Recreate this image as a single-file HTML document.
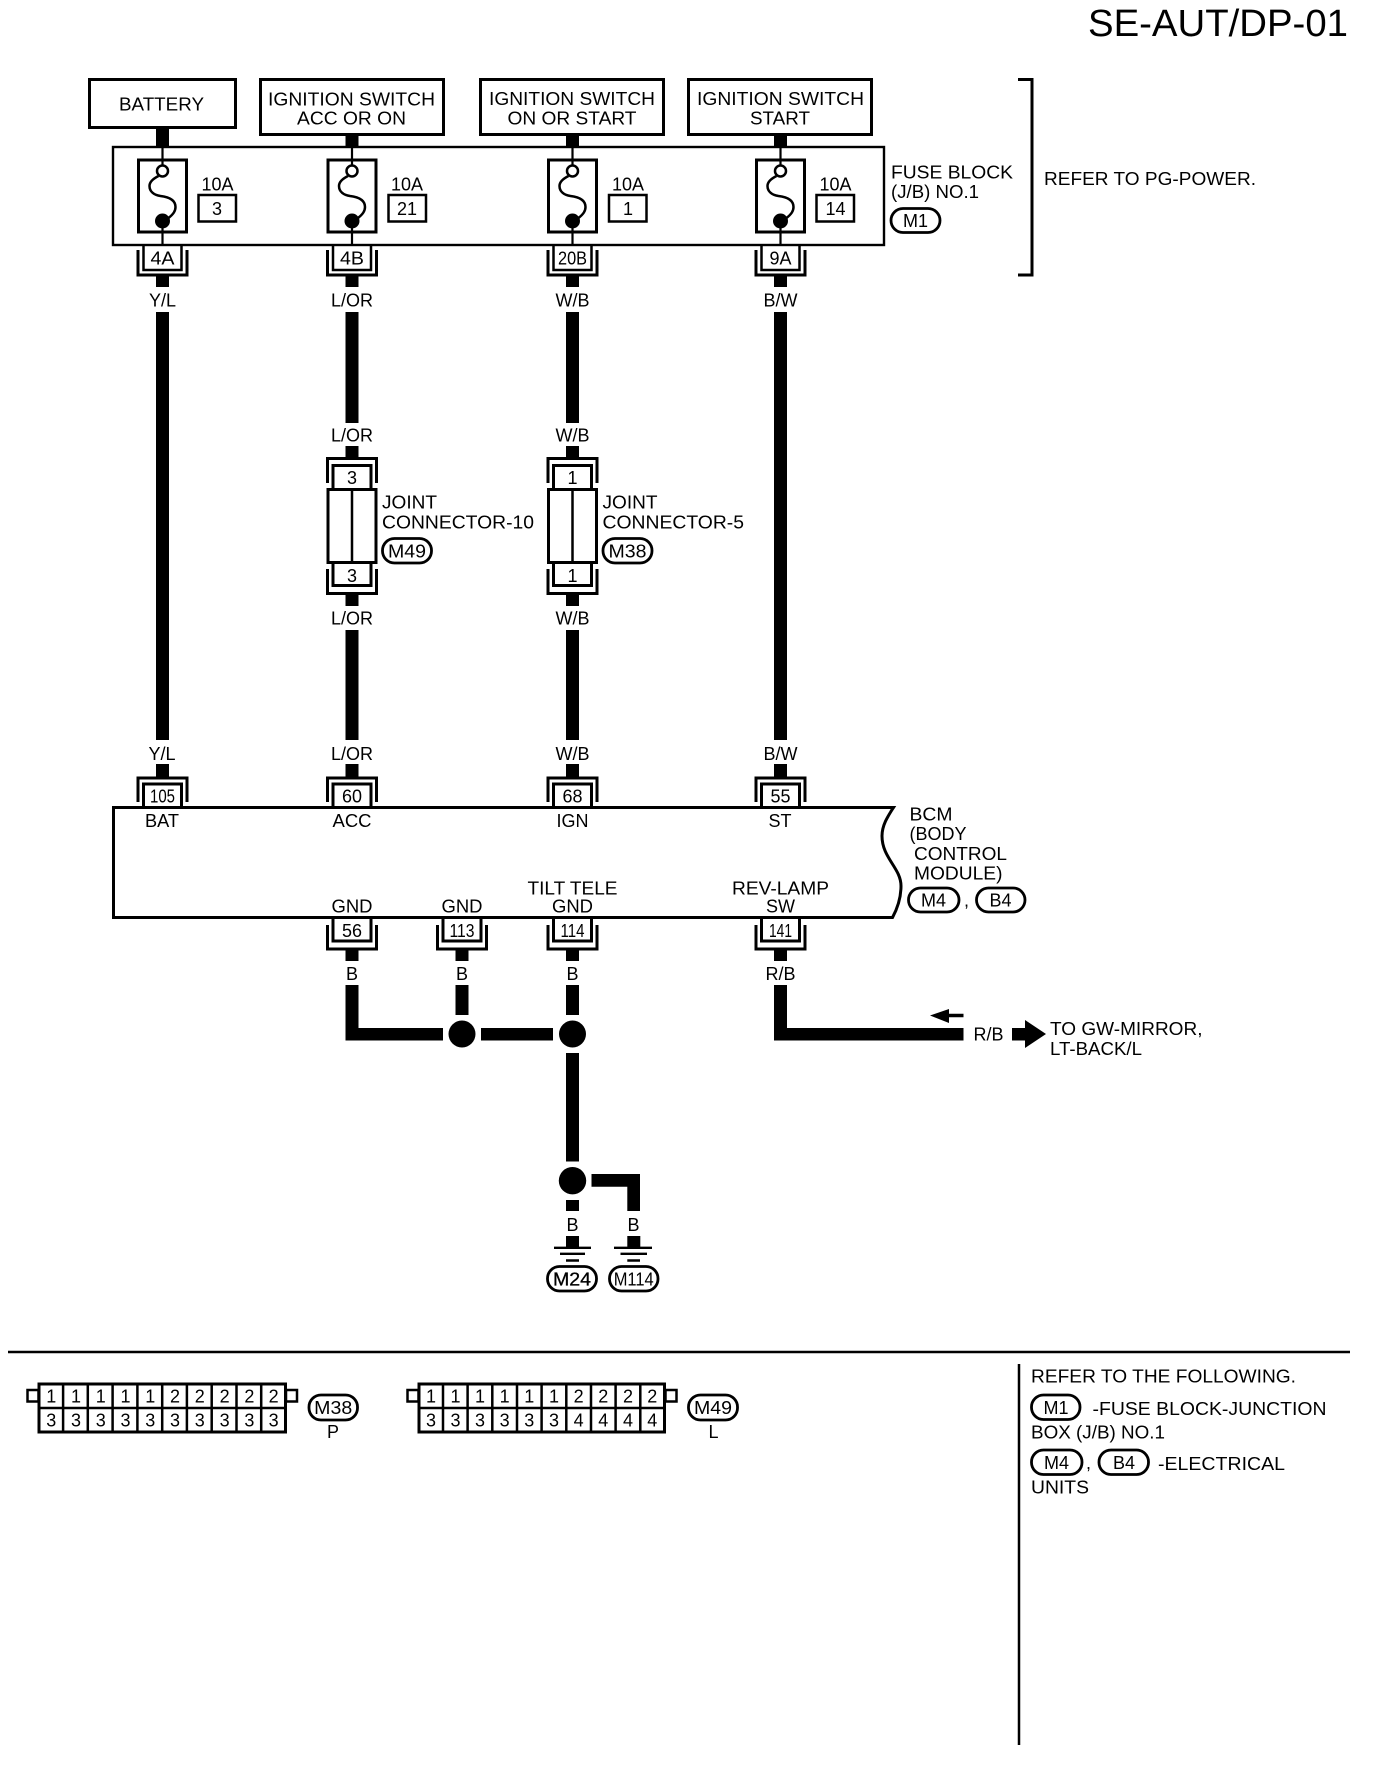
<!DOCTYPE html>
<html lang="en">
<head>
<meta charset="utf-8">
<title>SE-AUT/DP-01</title>
<style>
html,body{margin:0;padding:0;background:#fff}
svg{display:block}
text{font-family:"Liberation Sans",Arial,sans-serif;font-size:18px;fill:#000}
.m{text-anchor:middle}
.s{fill:none;stroke:#000;stroke-width:3}
.n{fill:none;stroke:#000;stroke-width:2.5}
.p{fill:#fff;stroke:#000;stroke-width:2.8}
.w{fill:#000}
</style>
</head>
<body>
<svg width="1392" height="1768" viewBox="0 0 1392 1768" xmlns="http://www.w3.org/2000/svg">
<defs>
<g id="fuse">
<rect class="w" x="-6.5" y="135" width="13" height="11"/>
<path d="M0,146V165M0,221V245" stroke="#000" stroke-width="2.2" fill="none"/>
<rect class="s" x="-24" y="160" width="48" height="72"/>
<path d="M-4,176C-10,179 -13,182 -13,186C-13,192 -8,195 -2,196C6,197 13,200 13,207C13,211 11,214 6,218" class="n"/>
<circle cx="0" cy="171" r="5.5" fill="#fff" stroke="#000" stroke-width="2.5"/>
<circle cx="0" cy="221" r="7.5" fill="#000"/>
<path class="n" d="M-19,245V270H19V245"/>
<path class="s" d="M-24.5,250V275H24.5V250"/>
<rect class="w" x="-6.5" y="276" width="13" height="11"/>
</g>
<g id="bt">
<rect class="w" x="-6.5" y="764" width="13" height="14"/>
<path class="s" d="M-24.5,802V778H24.5V802"/>
<path class="s" d="M-19,807V784H19V807"/>
</g>
<g id="bb">
<path class="s" d="M-19,917V941H19V917"/>
<path class="s" d="M-24.5,925V949H24.5V925"/>
<rect class="w" x="-6.5" y="949" width="13" height="12"/>
</g>
<g id="joint">
<rect class="w" x="-6.5" y="446" width="13" height="12"/>
<path class="s" d="M-24.5,483V458.500H24.5V483"/>
<path class="s" d="M-19,489V465.500H19V489"/>
<rect x="-24" y="489.500" width="48" height="73" fill="#fff" stroke="#000" stroke-width="3"/>
<path d="M0,489.500V562.500" stroke="#000" stroke-width="2.5"/>
<path class="s" d="M-19,563V585.500H19V563"/>
<path class="s" d="M-24.5,569V593.500H24.5V569"/>
<rect class="w" x="-6.5" y="594" width="13" height="12"/>
</g>
</defs>

<text x="1088" y="36" style="font-size:38px" textLength="260" lengthAdjust="spacingAndGlyphs">SE-AUT/DP-01</text>

<!-- top boxes -->
<rect class="s" x="89.500" y="79.500" width="146" height="48"/>
<text x="119" y="110.500" textLength="85" lengthAdjust="spacingAndGlyphs">BATTERY</text>
<rect class="s" x="260.500" y="79.500" width="183" height="55"/>
<text x="268" y="105.500" textLength="167" lengthAdjust="spacingAndGlyphs">IGNITION SWITCH</text>
<text x="297" y="124.500" textLength="109" lengthAdjust="spacingAndGlyphs">ACC OR ON</text>
<rect class="s" x="480.500" y="79.500" width="183" height="55"/>
<text x="489" y="105" textLength="166" lengthAdjust="spacingAndGlyphs">IGNITION SWITCH</text>
<text x="507.500" y="124.500" textLength="129" lengthAdjust="spacingAndGlyphs">ON OR START</text>
<rect class="s" x="688.500" y="79.500" width="183" height="55"/>
<text x="697" y="105" textLength="167" lengthAdjust="spacingAndGlyphs">IGNITION SWITCH</text>
<text x="750" y="124.500" textLength="60" lengthAdjust="spacingAndGlyphs">START</text>

<!-- fuse block -->
<rect class="w" x="156" y="128" width="13" height="8"/>
<rect x="113" y="147" width="771" height="98" fill="none" stroke="#000" stroke-width="2.4"/>
<use href="#fuse" transform="translate(162.500,0)"/>
<use href="#fuse" transform="translate(352,0)"/>
<use href="#fuse" transform="translate(572.500,0)"/>
<use href="#fuse" transform="translate(780.500,0)"/>

<text x="201.500" y="190.500" textLength="32" lengthAdjust="spacingAndGlyphs">10A</text>
<rect class="n" x="198.500" y="195" width="37.500" height="26.500"/>
<text class="m" x="217" y="215">3</text>
<text x="391" y="190.500" textLength="32" lengthAdjust="spacingAndGlyphs">10A</text>
<rect class="n" x="388.500" y="195" width="37.500" height="26.500"/>
<text class="m" x="407" y="215">21</text>
<text x="612" y="190.500" textLength="32" lengthAdjust="spacingAndGlyphs">10A</text>
<rect class="n" x="609" y="195" width="37.500" height="26.500"/>
<text class="m" x="628" y="215">1</text>
<text x="819.500" y="190.500" textLength="32" lengthAdjust="spacingAndGlyphs">10A</text>
<rect class="n" x="816.500" y="195" width="37.500" height="26.500"/>
<text class="m" x="835.500" y="215">14</text>

<text class="m" x="162.500" y="264.500" textLength="24" lengthAdjust="spacingAndGlyphs">4A</text>
<text class="m" x="352" y="264.500" textLength="24" lengthAdjust="spacingAndGlyphs">4B</text>
<text class="m" x="572.500" y="264.500" textLength="29" lengthAdjust="spacingAndGlyphs">20B</text>
<text class="m" x="780.500" y="264.500" textLength="22" lengthAdjust="spacingAndGlyphs">9A</text>

<text x="891" y="178.500" textLength="122" lengthAdjust="spacingAndGlyphs">FUSE BLOCK</text>
<text x="891" y="198" textLength="88" lengthAdjust="spacingAndGlyphs">(J/B) NO.1</text>
<rect class="p" x="891" y="208.500" width="49" height="24" rx="12"/>
<text class="m" x="915.500" y="227">M1</text>

<path class="s" d="M1018,79.500H1032V275H1018"/>
<text x="1044" y="185" textLength="212" lengthAdjust="spacingAndGlyphs">REFER TO PG-POWER.</text>

<!-- wire labels upper -->
<text class="m" x="162.500" y="306.500">Y/L</text>
<text class="m" x="352" y="306.500">L/OR</text>
<text class="m" x="572.500" y="306.500">W/B</text>
<text class="m" x="780.500" y="306.500">B/W</text>

<!-- long wires -->
<rect class="w" x="156" y="312" width="13" height="428"/>
<rect class="w" x="345.500" y="312" width="13" height="111"/>
<rect class="w" x="566" y="312" width="13" height="111"/>
<rect class="w" x="774" y="312" width="13" height="428"/>
<rect class="w" x="345.500" y="630" width="13" height="110"/>
<rect class="w" x="566" y="630" width="13" height="110"/>

<text class="m" x="352" y="441.500">L/OR</text>
<text class="m" x="572.500" y="441.500">W/B</text>
<use href="#joint" transform="translate(352,0)"/>
<use href="#joint" transform="translate(572.500,0)"/>
<text class="m" x="352" y="484">3</text>
<text class="m" x="572.500" y="484">1</text>
<text class="m" x="352" y="582">3</text>
<text class="m" x="572.500" y="582">1</text>
<text class="m" x="352" y="624.500">L/OR</text>
<text class="m" x="572.500" y="624.500">W/B</text>

<text x="382" y="508.500" textLength="55" lengthAdjust="spacingAndGlyphs">JOINT</text>
<text x="382" y="528.500" textLength="152" lengthAdjust="spacingAndGlyphs">CONNECTOR-10</text>
<rect class="p" x="382.500" y="538.500" width="49" height="24.500" rx="12"/>
<text class="m" x="407" y="557.500" textLength="38" lengthAdjust="spacingAndGlyphs">M49</text>
<text x="602.500" y="508.500" textLength="55" lengthAdjust="spacingAndGlyphs">JOINT</text>
<text x="602.500" y="528.500" textLength="141.500" lengthAdjust="spacingAndGlyphs">CONNECTOR-5</text>
<rect class="p" x="603" y="538.500" width="49" height="24.500" rx="12"/>
<text class="m" x="627.500" y="557.500" textLength="38" lengthAdjust="spacingAndGlyphs">M38</text>

<!-- BCM -->
<text class="m" x="162" y="760">Y/L</text>
<text class="m" x="352" y="760">L/OR</text>
<text class="m" x="572.500" y="760">W/B</text>
<text class="m" x="780.500" y="760">B/W</text>
<use href="#bt" transform="translate(162.500,0)"/>
<use href="#bt" transform="translate(352,0)"/>
<use href="#bt" transform="translate(572.500,0)"/>
<use href="#bt" transform="translate(780.500,0)"/>
<path class="s" d="M893.500,807.500H113.500V917.500H892.500C896,911 901,899 901,886C901,868 882,858 882,836C882,825 888,816 893.500,807.500Z" stroke-linejoin="miter"/>
<text class="m" x="162.500" y="802.500" textLength="25" lengthAdjust="spacingAndGlyphs">105</text>
<text class="m" x="352" y="802.500" textLength="20" lengthAdjust="spacingAndGlyphs">60</text>
<text class="m" x="572.500" y="802.500" textLength="20" lengthAdjust="spacingAndGlyphs">68</text>
<text class="m" x="780.500" y="802.500" textLength="20" lengthAdjust="spacingAndGlyphs">55</text>
<text class="m" x="162" y="827" textLength="34" lengthAdjust="spacingAndGlyphs">BAT</text>
<text class="m" x="352" y="827" textLength="39" lengthAdjust="spacingAndGlyphs">ACC</text>
<text class="m" x="572.500" y="827" textLength="32" lengthAdjust="spacingAndGlyphs">IGN</text>
<text class="m" x="780" y="827" textLength="23" lengthAdjust="spacingAndGlyphs">ST</text>
<text class="m" x="352" y="912.500" textLength="41" lengthAdjust="spacingAndGlyphs">GND</text>
<text class="m" x="462" y="912.500" textLength="41" lengthAdjust="spacingAndGlyphs">GND</text>
<text class="m" x="572.500" y="894.500" textLength="90" lengthAdjust="spacingAndGlyphs">TILT TELE</text>
<text class="m" x="572.500" y="912.500" textLength="41" lengthAdjust="spacingAndGlyphs">GND</text>
<text class="m" x="780.500" y="894.500" textLength="97" lengthAdjust="spacingAndGlyphs">REV-LAMP</text>
<text class="m" x="780.500" y="912.500" textLength="29" lengthAdjust="spacingAndGlyphs">SW</text>
<use href="#bb" transform="translate(352,0)"/>
<use href="#bb" transform="translate(462,0)"/>
<use href="#bb" transform="translate(572.500,0)"/>
<use href="#bb" transform="translate(780.500,0)"/>
<text class="m" x="352" y="937" textLength="20" lengthAdjust="spacingAndGlyphs">56</text>
<text class="m" x="462" y="937" textLength="25" lengthAdjust="spacingAndGlyphs">113</text>
<text class="m" x="572.500" y="937" textLength="24" lengthAdjust="spacingAndGlyphs">114</text>
<text class="m" x="780.500" y="937" textLength="23" lengthAdjust="spacingAndGlyphs">141</text>

<text x="909.500" y="820.500" textLength="43" lengthAdjust="spacingAndGlyphs">BCM</text>
<text x="909.500" y="840" textLength="57" lengthAdjust="spacingAndGlyphs">(BODY</text>
<text x="914" y="860" textLength="93" lengthAdjust="spacingAndGlyphs">CONTROL</text>
<text x="914" y="879.500" textLength="88.500" lengthAdjust="spacingAndGlyphs">MODULE)</text>
<rect class="p" x="908.500" y="888" width="50.500" height="24" rx="12"/>
<text class="m" x="933.500" y="906.500">M4</text>
<text x="964" y="906.500">,</text>
<rect class="p" x="976.500" y="888" width="48.500" height="24" rx="12"/>
<text class="m" x="1000.500" y="906.500">B4</text>

<!-- lower wires -->
<text class="m" x="352" y="980">B</text>
<text class="m" x="462" y="980">B</text>
<text class="m" x="572.500" y="980">B</text>
<text class="m" x="780.500" y="980">R/B</text>
<path class="w" d="M345.500,985H358.500V1028H443V1040.500H345.500Z"/>
<rect class="w" x="455.500" y="985" width="13" height="30"/>
<rect class="w" x="566" y="985" width="13" height="30"/>
<rect class="w" x="481" y="1028" width="72" height="12.500"/>
<circle cx="462" cy="1034" r="13.500" fill="#000"/>
<circle cx="572.500" cy="1034" r="13.500" fill="#000"/>
<rect class="w" x="566" y="1053" width="13" height="108.500"/>
<path class="w" d="M774,985H787V1028H963.500V1040.500H774Z"/>
<path class="w" d="M930,1015.500L949,1009V1013.800H963.500V1017.200H949V1023Z"/>
<text x="973.500" y="1040.500" textLength="30" lengthAdjust="spacingAndGlyphs">R/B</text>
<path class="w" d="M1012,1028H1025V1020L1046,1034L1025,1048V1040.500H1012Z"/>
<text x="1050" y="1035" textLength="152.500" lengthAdjust="spacingAndGlyphs">TO GW-MIRROR,</text>
<text x="1050" y="1055" textLength="92" lengthAdjust="spacingAndGlyphs">LT-BACK/L</text>

<!-- grounds -->
<circle cx="572.500" cy="1180.700" r="13.700" fill="#000"/>
<path class="w" d="M591.500,1174H640V1211H627.300V1186.700H591.500Z"/>
<rect class="w" x="566" y="1200" width="13" height="11"/>
<text class="m" x="572.500" y="1231">B</text>
<text class="m" x="633.500" y="1231">B</text>
<rect class="w" x="566" y="1236" width="13" height="11"/>
<rect class="w" x="627.300" y="1236" width="13" height="11"/>
<path d="M554,1247.800H591M560,1253.800H585M566,1260.500H579" stroke="#000" stroke-width="2.400" fill="none"/>
<path d="M614,1247.800H652M620.500,1253.800H647M627.300,1260.500H640" stroke="#000" stroke-width="2.400" fill="none"/>
<rect class="p" x="547.500" y="1266.500" width="49" height="24.500" rx="12"/>
<text class="m" x="572" y="1285.500" textLength="38" lengthAdjust="spacingAndGlyphs" stroke="#000" stroke-width="0.3">M24</text>
<rect class="p" x="609.500" y="1266.500" width="48.500" height="24.500" rx="12"/>
<text class="m" x="633.700" y="1285.500" textLength="40" lengthAdjust="spacingAndGlyphs">M114</text>

<!-- separator -->
<path d="M8,1352H1350" stroke="#000" stroke-width="2.500"/>
<path d="M1019,1364V1745" stroke="#000" stroke-width="2.500"/>

<!-- M38 connector -->
<rect x="27.500" y="1390" width="11" height="11.500" class="n"/>
<rect x="286" y="1390" width="11" height="11.500" class="n"/>
<rect class="s" x="39" y="1384" width="246.500" height="48"/>
<path class="n" d="M39,1408H286M63.100,1384V1432M87.800,1384V1432M112.600,1384V1432M137.400,1384V1432M162.200,1384V1432M186.900,1384V1432M211.700,1384V1432M236.500,1384V1432M261.200,1384V1432"/>
<text class="m" x="51.200 76 100.700 125.500 150.300 175 199.800 224.600 249.400 273.600" y="1402.500">1111122222</text>
<text class="m" x="51.200 76 100.700 125.500 150.300 175 199.800 224.600 249.400 273.600" y="1426.500">3333333333</text>
<rect class="p" x="309" y="1395" width="48.500" height="25" rx="12"/>
<text class="m" x="333.200" y="1414" textLength="38" lengthAdjust="spacingAndGlyphs">M38</text>
<text class="m" x="333" y="1438">P</text>

<!-- M49 connector -->
<rect x="407.500" y="1390" width="11" height="11.500" class="n"/>
<rect x="665.500" y="1390" width="11" height="11.500" class="n"/>
<rect class="s" x="419" y="1384" width="245.500" height="48"/>
<path class="n" d="M419,1408H665M443,1384V1432M467.600,1384V1432M492.300,1384V1432M517,1384V1432M541.600,1384V1432M566.300,1384V1432M591,1384V1432M615.600,1384V1432M640.300,1384V1432"/>
<text class="m" x="431 455.500 480 504.600 529.300 554 578.600 603.300 628 652.300" y="1402.500">1111112222</text>
<text class="m" x="431 455.500 480 504.600 529.300 554 578.600 603.300 628 652.300" y="1426.500">3333334444</text>
<rect class="p" x="688.500" y="1395" width="49" height="25" rx="12"/>
<text class="m" x="713" y="1414" textLength="38" lengthAdjust="spacingAndGlyphs">M49</text>
<text class="m" x="713.500" y="1438">L</text>

<!-- legend -->
<text x="1031" y="1382.500" textLength="265" lengthAdjust="spacingAndGlyphs">REFER TO THE FOLLOWING.</text>
<rect class="p" x="1031.500" y="1395" width="48.500" height="24.500" rx="12"/>
<text class="m" x="1056" y="1414">M1</text>
<text x="1092.500" y="1415" textLength="234" lengthAdjust="spacingAndGlyphs">-FUSE BLOCK-JUNCTION</text>
<text x="1031" y="1438.500" textLength="134" lengthAdjust="spacingAndGlyphs">BOX (J/B) NO.1</text>
<rect class="p" x="1031.500" y="1450" width="50.500" height="24.500" rx="12"/>
<text class="m" x="1056.500" y="1469">M4</text>
<text x="1086" y="1469">,</text>
<rect class="p" x="1099" y="1450" width="49.500" height="24.500" rx="12"/>
<text class="m" x="1124" y="1469">B4</text>
<text x="1158" y="1470" textLength="127" lengthAdjust="spacingAndGlyphs">-ELECTRICAL</text>
<text x="1031" y="1493.500" textLength="58" lengthAdjust="spacingAndGlyphs">UNITS</text>
</svg>
</body>
</html>
